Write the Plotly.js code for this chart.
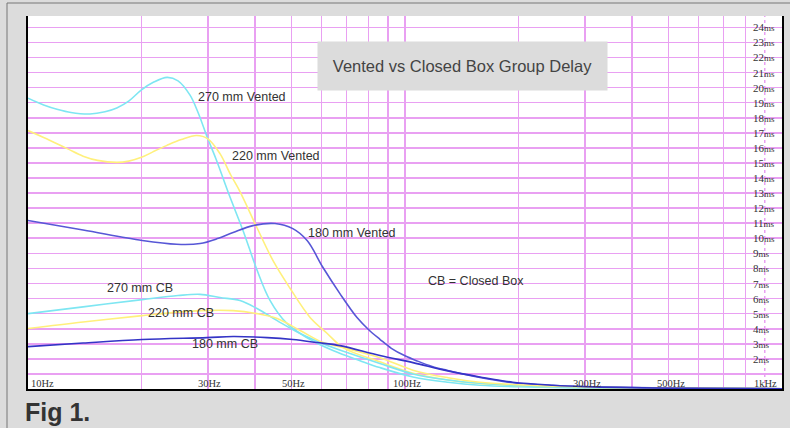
<!DOCTYPE html>
<html>
<head>
<meta charset="utf-8">
<script src="https://cdn.plot.ly/plotly-3.0.1.min.js"></script>
<style>html,body{margin:0;padding:0;background:#dcdcdc;}#chart{width:790px;height:428px;}</style>
</head>
<body>
<div id="chart"></div>
<script>
// ---- data (frequency in Hz, group delay in ms) ----
var freq270V  = [10, 11, 12, 13, 14.6, 16, 17.2, 18.5, 20, 21.5, 23.4, 25, 26.9, 28.2, 30, 31.6, 34.2, 37.2, 40.5, 43.8, 48.6, 55, 64.4, 76, 85.8, 105, 130, 158, 200, 300, 500, 1000];
var delay270V = [19.3, 18.85, 18.55, 18.35, 18.25, 18.4, 18.65, 19.1, 19.85, 20.35, 20.68, 20.45, 19.5, 18.4, 16.6, 15.2, 12.85, 10.5, 7.9, 5.9, 4.35, 3.4, 2.55, 1.88, 1.42, 0.8, 0.45, 0.25, 0.15, 0.07, 0.03, 0.01];

var freq220V  = [10, 11.2, 12.7, 14, 15.3, 17.2, 18.5, 20, 21.5, 23.3, 25.5, 28, 30, 32.3, 34.5, 36.5, 40.5, 44.7, 49.5, 56, 62.1, 68.5, 85.8, 105, 130, 158, 200, 300, 500, 1000];
var delay220V = [17.15, 16.6, 15.95, 15.45, 15.17, 15.04, 15.12, 15.37, 15.75, 16.15, 16.55, 16.82, 16.6, 15.62, 14.2, 13.1, 10.7, 8.5, 6.7, 4.75, 3.7, 2.75, 1.8, 1.05, 0.6, 0.36, 0.22, 0.1, 0.05, 0.02];

var freq180V  = [10, 14, 20.1, 24.8, 28.6, 32, 35, 39.5, 45.2, 50.4, 55, 60.6, 67.2, 74.6, 80, 85.8, 92, 100, 108, 118, 129, 158, 193, 247, 300, 500, 1000];
var delay180V = [11.18, 10.55, 9.85, 9.6, 9.65, 10.0, 10.38, 10.84, 10.98, 10.64, 9.85, 8.06, 6.33, 4.74, 3.95, 3.3, 2.7, 2.2, 1.85, 1.5, 1.25, 0.76, 0.42, 0.23, 0.15, 0.06, 0.02];

var freq270CB  = [10, 14, 20.1, 25, 28.6, 32.3, 36.5, 40.5, 45.8, 52.7, 60.6, 71.5, 85.8, 105, 130, 158, 200, 300, 500, 1000];
var delay270CB = [5.0, 5.45, 5.93, 6.2, 6.28, 6.07, 5.87, 5.34, 4.54, 3.68, 3.01, 2.35, 1.69, 1.0, 0.6, 0.38, 0.22, 0.1, 0.05, 0.02];

var freq220CB  = [10, 14, 20.1, 25, 28.6, 35, 40.5, 45.8, 52.7, 60.6, 68.5, 85.8, 105, 130, 158, 200, 300, 500, 1000];
var delay220CB = [4.01, 4.45, 4.87, 5.1, 5.2, 5.2, 5.0, 4.67, 3.88, 3.08, 2.75, 2.08, 1.25, 0.75, 0.45, 0.28, 0.13, 0.06, 0.02];

var freq180CB  = [10, 14, 20.1, 29.8, 35, 43.1, 50.4, 58.4, 67.2, 85.8, 105, 129, 158, 193, 247, 300, 500, 1000];
var delay180CB = [2.81, 3.05, 3.28, 3.41, 3.48, 3.41, 3.28, 3.08, 2.88, 2.22, 1.75, 1.22, 0.8, 0.45, 0.25, 0.16, 0.06, 0.02];

var seriesNames = ["270 mm Vented", "220 mm Vented", "180 mm Vented", "270 mm CB", "220 mm CB", "180 mm CB"];

// axis labels
var xLabelVals = [10, 30, 50, 100, 300, 500, 1000];
var xLabelText = ["10Hz", "30Hz", "50Hz", "100Hz", "300Hz", "500Hz", "1kHz"];
var yLabelVals = [2,3,4,5,6,7,8,9,10,11,12,13,14,15,16,17,18,19,20,21,22,23,24];
var gridFreqs = [10,20,30,40,50,60,70,80,90,100,200,300,400,500,600,700,800,1000];
var dottedGridFreq = 900;

var chartTitle = "Vented vs Closed Box Group Delay";
var noteText = "CB = Closed Box";
var figText = "Fig 1.";

// ---- layout helpers (pixel -> paper) ----
var L = 28, R = 782, T = 16, B = 389;
function px(x){ return (x - L) / (R - L); }
function py(y){ return (B - y) / (B - T); }

var cyan = "#7ee6f2", yellow = "#fff07c", blueV = "#5757d6", blueCB = "#3434c6";
var colors = [cyan, yellow, blueV, cyan, yellow, blueCB];
var xs = [freq270V, freq220V, freq180V, freq270CB, freq220CB, freq180CB];
var ys = [delay270V, delay220V, delay180V, delay270CB, delay220CB, delay180CB];

var traces = [];
for (var i = 0; i < 6; i++) {
  traces.push({
    x: xs[i], y: ys[i], type: "scatter", mode: "lines", name: seriesNames[i],
    line: {color: colors[i], width: 1.6, shape: "spline", smoothing: 1},
    hoverinfo: "skip"
  });
}

var annFont = {family: "Liberation Sans, Arial, sans-serif", size: 12.5, color: "#333333"};
var serif = "Liberation Serif, Times New Roman, serif";

var labelPos = [[242, 97], [276, 156], [352, 233], [140, 288], [180.5, 313], [224.5, 344]];
var annotations = [];
for (var k = 0; k < 6; k++) {
  annotations.push({xref: "paper", yref: "paper", x: px(labelPos[k][0]), y: py(labelPos[k][1]),
    text: seriesNames[k], showarrow: false, font: annFont, xanchor: "center", yanchor: "middle"});
}
annotations.push({xref: "paper", yref: "paper", x: px(476), y: py(281), text: noteText,
  showarrow: false, font: annFont, xanchor: "center", yanchor: "middle"});

// title box
annotations.push({xref: "paper", yref: "paper", x: px(462.5), y: py(66), text: chartTitle,
  showarrow: false, font: {family: "Liberation Sans, Arial, sans-serif", size: 16.5, color: "#444444"},
  bgcolor: "#dcdcdc", width: 285, height: 44, borderpad: 2, xanchor: "center", yanchor: "middle"});

// x tick labels
for (var j = 0; j < xLabelVals.length; j++) {
  var anchor = "center", shift = 2;
  if (j === 0) { anchor = "left"; shift = 1; }
  if (j === xLabelVals.length - 1) { anchor = "right"; shift = -3; }
  annotations.push({xref: "x", yref: "paper", x: Math.log10(xLabelVals[j]), y: py(383),
    text: xLabelText[j], showarrow: false, xanchor: anchor, yanchor: "middle", xshift: shift,
    font: {family: serif, size: 10.5, color: "#333333"}});
}
// y tick labels
for (var m = 0; m < yLabelVals.length; m++) {
  annotations.push({xref: "paper", yref: "y", x: px(751), y: yLabelVals[m],
    text: yLabelVals[m] + "<span style='font-size:9px'>ms</span>", showarrow: false,
    xanchor: "left", yanchor: "middle", font: {family: serif, size: 11, color: "#333333"}});
}
// Fig 1.
annotations.push({xref: "paper", yref: "paper", x: px(23), y: py(412), text: "<b>" + figText + "</b>",
  showarrow: false, xanchor: "left", yanchor: "middle",
  font: {family: "Liberation Sans, Arial, sans-serif", size: 25, color: "#333333"}});

var gridColor = "#e9a0f2";
var layout = {
  width: 790, height: 428,
  margin: {l: L, r: 790 - R, t: T, b: 428 - B, pad: 0},
  paper_bgcolor: "#dcdcdc", plot_bgcolor: "#ffffff",
  showlegend: false,
  xaxis: {type: "log", range: [1, 3], tickmode: "array", tickvals: gridFreqs, showticklabels: false,
    ticks: "", showgrid: true, gridcolor: gridColor, gridwidth: 1.6, zeroline: false,
    showline: true, linecolor: "#000000", linewidth: 2, mirror: false, fixedrange: true},
  yaxis: {range: [0, 24.75], tick0: 0, dtick: 1, showticklabels: false, ticks: "",
    showgrid: true, gridcolor: gridColor, gridwidth: 1.6, zeroline: false,
    showline: true, linecolor: "#000000", linewidth: 2, mirror: true, fixedrange: true},
  shapes: [
    {type: "line", xref: "x", yref: "paper", x0: dottedGridFreq, x1: dottedGridFreq, y0: 0, y1: 1,
     line: {color: gridColor, width: 1.5, dash: "dot"}, layer: "below"},
    {type: "rect", xref: "paper", yref: "paper", x0: px(7), x1: px(820), y0: py(460), y1: py(3),
     line: {color: "#777777", width: 1}, fillcolor: "rgba(0,0,0,0)", layer: "above"}
  ],
  annotations: annotations
};

Plotly.newPlot("chart", traces, layout, {displayModeBar: false, staticPlot: true});
</script>
</body>
</html>
